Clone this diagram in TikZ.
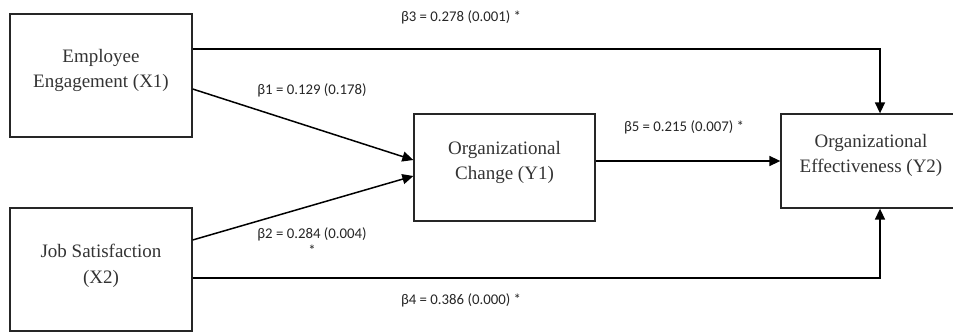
\documentclass[tikz,border=0pt]{standalone}
\usepackage{fontspec}
\setmainfont{Liberation Serif}
\newfontfamily\lblfont{Carlito}
\usetikzlibrary{arrows.meta}
\begin{document}
\begin{tikzpicture}[x=1pt,y=-1pt,
  box/.style={draw=black!85, line width=1.3pt, rectangle, inner sep=0pt},
  boxtext/.style={font=\fontsize{19}{25}\selectfont, align=center, text=black!80, inner sep=0pt},
  lbl/.style={font=\lblfont\fontsize{14.8}{17}\selectfont, align=center, text=black!85, inner sep=0pt},
  conn/.style={draw=black, line width=1.5pt},
  arr/.style={conn, -{Triangle[length=11pt,width=10pt]}}]
\useasboundingbox (0,0) rectangle (953,332);
% boxes
\node[box, minimum width=182pt, minimum height=123pt] (x1) at (101,75.5) {};
\node[box, minimum width=182pt, minimum height=123pt] (x2) at (101,269.5) {};
\node[box, minimum width=181pt, minimum height=107pt] (y1) at (504.5,167.5) {};
\node[box, minimum width=180pt, minimum height=94pt] (y2) at (871,161) {};
% box texts
\node[boxtext] (x1t) at ([yshift=5pt]x1.center) {Employee\\Engagement (X1)};
\node[boxtext] (x2t) at ([yshift=3.5pt]x2.center) {Job Satisfaction\\[1.5pt](X2)};
\node[boxtext] (y1t) at ([yshift=5.5pt]y1.center) {Organizational\\Change (Y1)};
\node[boxtext] (y2t) at ([yshift=5.5pt]y2.center) {Organizational\\Effectiveness (Y2)};
% connectors
\draw[arr] ([yshift=-13.5pt]x1.east) -- ([yshift=7.5pt]y1.west);
\draw[arr] ([yshift=29.5pt]x2.east) -- ([yshift=-8.5pt]y1.west);
\draw[arr] (y1.east |- y2.west) -- (y2.west);
\draw[arr] ([yshift=26.5pt]x1.east) -| ([xshift=9pt]y2.north);
\draw[arr] ([yshift=-8.5pt]x2.east) -| ([xshift=9pt]y2.south);
% labels
\node[lbl] (b1) at (312,90) {β1 = 0.129 (0.178)};
\node[lbl] (b2) at (312,241.5) {β2 = 0.284 (0.004)\\*};
\node[lbl] (b3) at (461,17) {β3 = 0.278 (0.001) *};
\node[lbl] (b4) at (461,300) {β4 = 0.386 (0.000) *};
\node[lbl] (b5) at (684,127) {β5 = 0.215 (0.007) *};
\end{tikzpicture}
\end{document}
